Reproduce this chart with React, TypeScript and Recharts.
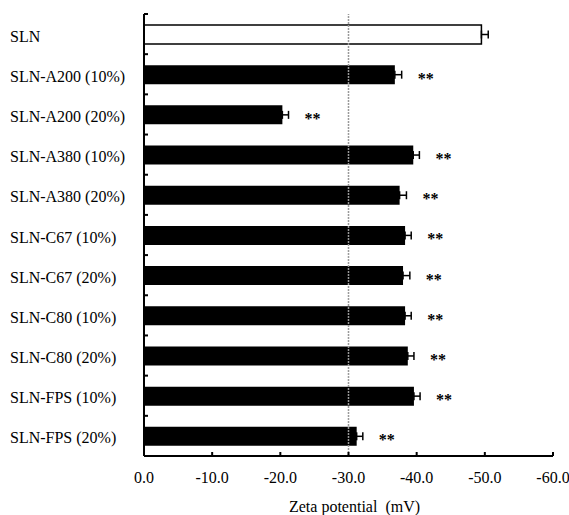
import { BarChart, Bar, XAxis, YAxis, Cell, ErrorBar, LabelList, ReferenceLine, Label } from "recharts";

const categories = [
  "SLN",
  "SLN-A200 (10%)",
  "SLN-A200 (20%)",
  "SLN-A380 (10%)",
  "SLN-A380 (20%)",
  "SLN-C67 (10%)",
  "SLN-C67 (20%)",
  "SLN-C80 (10%)",
  "SLN-C80 (20%)",
  "SLN-FPS (10%)",
  "SLN-FPS (20%)",
];
const zeta = [-49.5, -36.8, -20.3, -39.5, -37.5, -38.3, -38.0, -38.3, -38.7, -39.6, -31.2];
const sd = [1.0, 1.0, 0.9, 0.9, 1.0, 0.9, 1.0, 0.9, 0.9, 0.9, 0.9];
const marks = ["", "**", "**", "**", "**", "**", "**", "**", "**", "**", "**"];
const xTicks = [0, -10, -20, -30, -40, -50, -60];

const FONT = "'Liberation Serif', 'Times New Roman', serif";
const W = 569;
const H = 515;
const TOP = 14;
const BOTTOM_AXIS = 59;
const BAND = (H - TOP - BOTTOM_AXIS) / categories.length;

const data = categories.map((name, i) => ({
  name,
  zeta: zeta[i],
  err: [sd[i], 0],
  sd: sd[i],
  mark: marks[i],
}));

const YTick = ({ x, y, payload }: any) => (
  <g>
    <line x1={x} x2={x + 4} y1={y - BAND / 2} y2={y - BAND / 2} stroke="#000" strokeWidth={2} />
    <text x={10} y={y} dy={7.5} textAnchor="start" fontFamily={FONT} fontSize={16} fill="#000">
      {payload.value}
    </text>
  </g>
);

const XTick = ({ x, y, payload }: any) => (
  <g>
    <line x1={x} x2={x} y1={y - 4} y2={y} stroke="#000" strokeWidth={2} />
    <text x={x} y={y + 27} textAnchor="middle" fontFamily={FONT} fontSize={16} fill="#000">
      {Number(payload.value).toFixed(1)}
    </text>
  </g>
);

const Stars = (props: any) => {
  const { x, y, width, height, index } = props;
  const d = data[index];
  if (!d || !d.mark) return null;
  const end = Math.max(x, x + width);
  const perUnit = Math.abs(width) / Math.abs(d.zeta);
  return (
    <text
      x={end + d.sd * perUnit + 16}
      y={y + height / 2 + 9}
      fontFamily={FONT}
      fontSize={16}
      fontWeight="bold"
      fill="#000"
    >
      {d.mark}
    </text>
  );
};

export default function App() {
  return (
    <div style={{ position: "absolute", left: 0, top: 0, background: "#fff" }}>
      <BarChart
        width={W}
        height={H}
        data={data}
        layout="vertical"
        margin={{ top: TOP, right: 16, left: 0, bottom: 0 }}
        barSize={19}
      >
        <XAxis
          type="number"
          dataKey="zeta"
          domain={[-60, 0]}
          reversed
          ticks={xTicks}
          allowDataOverflow
          height={BOTTOM_AXIS}
          tickSize={0}
          tickMargin={0}
          tickLine={false}
          tick={<XTick />}
          axisLine={{ stroke: "#000", strokeWidth: 2 }}
        >
          <Label
            content={({ viewBox }: any) => (
              <text
                x={viewBox.x + viewBox.width / 2 + 6}
                y={viewBox.y + 56}
                textAnchor="middle"
                fontFamily={FONT}
                fontSize={16}
                fill="#000"
              >
                {"Zeta potential\u00a0\u00a0(mV)"}
              </text>
            )}
          />
        </XAxis>
        <YAxis
          type="category"
          dataKey="name"
          width={144}
          interval={0}
          tickSize={0}
          tickMargin={0}
          tickLine={false}
          tick={<YTick />}
          axisLine={{ stroke: "#000", strokeWidth: 2 }}
        />
        <ReferenceLine x={-30} stroke="#999" strokeWidth={1.5} strokeDasharray="2 1" />
        <Bar dataKey="zeta" isAnimationActive={false}>
          {data.map((d, i) => (
            <Cell key={d.name} fill={i === 0 ? "#fff" : "#000"} stroke="#000" strokeWidth={i === 0 ? 1.5 : 0} />
          ))}
          <ErrorBar dataKey="err" direction="x" width={4} stroke="#000" strokeWidth={1.5} isAnimationActive={false} />
          <LabelList dataKey="mark" content={<Stars />} />
        </Bar>
      </BarChart>
    </div>
  );
}
